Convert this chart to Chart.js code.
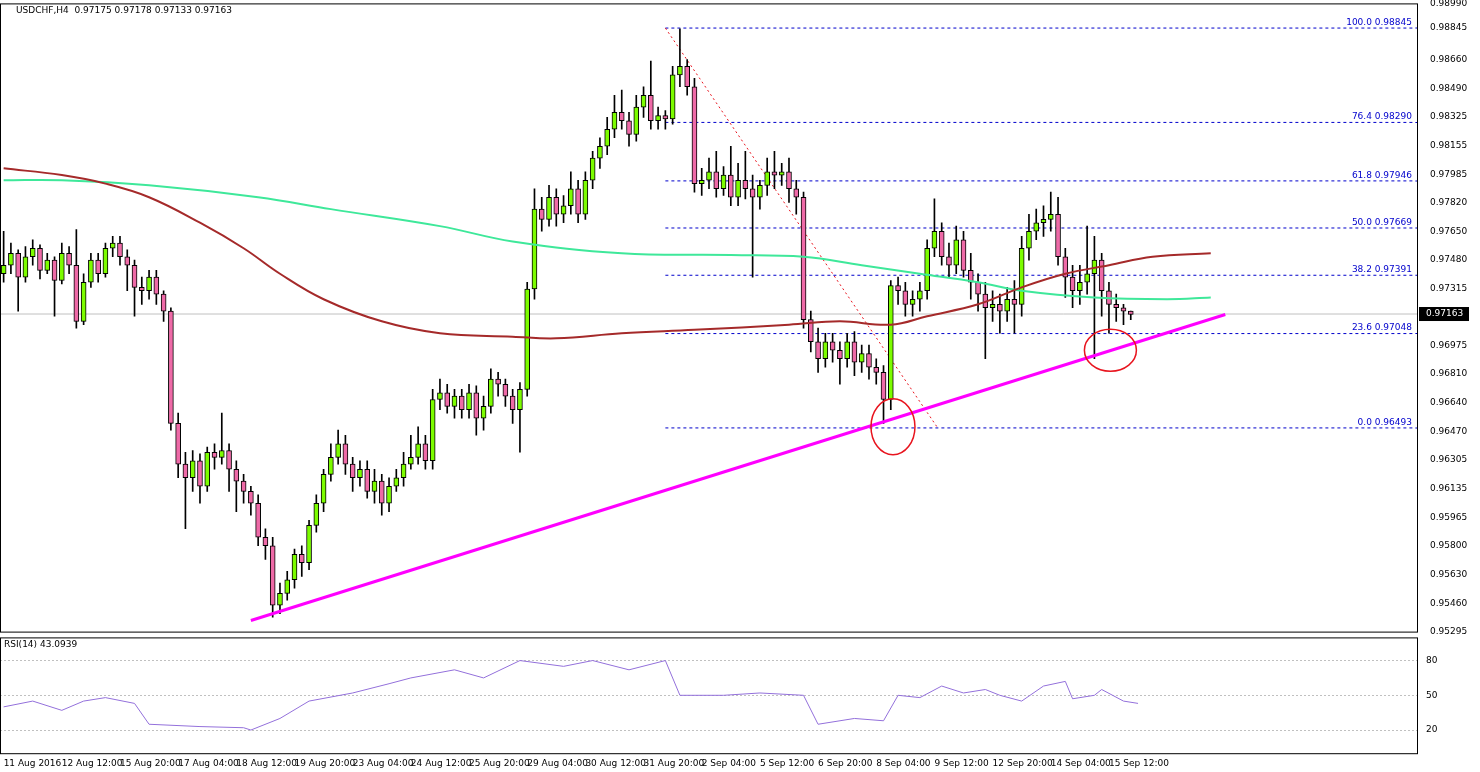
<!DOCTYPE html>
<html>
<head>
<meta charset="utf-8">
<script src="https://cdn.jsdelivr.net/npm/chart.js@4.4.1/dist/chart.umd.min.js"></script>
<style>
  body { margin: 0; background: #fff; overflow: hidden; }
  #main { position: absolute; left: 0; top: -6px; width: 1480px; height: 647px; }
  #rsi { position: absolute; left: 0; top: 624px; width: 1480px; height: 147px; }
</style>
</head>
<body>
<div id="main"><canvas id="mainChart"></canvas></div>
<div id="rsi"><canvas id="rsiChart"></canvas></div>
<script>
// candles (H4 USDCHF)
const opens = [
  .9740,.9745,.9752,.9738,.9750,.9755,.9742,.9748,.9736,.9752,
  .9745,.9712,.9735,.9748,.9740,.9755,.9758,.9750,.9745,.9732,
  .9730,.9738,.9728,.9718,.9652,.9628,.9620,.9630,.9615,.9635,
  .9632,.9636,.9625,.9618,.9612,.9605,.9585,.9580,.9545,.9552,
  .9560,.9575,.9570,.9592,.9605,.9622,.9632,.9640,.9628,.9620,
  .9625,.9612,.9618,.9605,.9615,.9620,.9628,.9632,.9640,.9630,
  .9666,.9670,.9662,.9668,.9660,.9670,.9655,.9662,.9678,.9675,
  .9668,.9660,.9672,.9731,.9778,.9772,.9785,.9775,.9780,.9790,
  .9775,.9795,.9808,.9815,.9825,.9835,.9830,.9822,.9838,.9845,
  .9830,.9833,.9831,.9857,.9862,.9850,.9793,.9795,.9800,.9790,
  .9798,.9785,.9795,.9790,.9785,.9792,.9800,.9798,.9800,.9790,
  .9785,.9713,.9700,.9690,.9700,.9695,.9690,.9700,.9688,.9693,
  .9685,.9682,.9666,.9733,.9730,.9722,.9725,.9730,.9755,.9765,
  .9750,.9745,.9760,.9742,.9735,.9728,.9720,.9722,.9718,.9725,
  .9722,.9755,.9765,.9770,.9772,.9775,.9750,.9738,.9730,.9735,
  .9740,.9748,.9730,.9722,.9720,.9718
];
const closes = [
  .9745,.9752,.9738,.9750,.9755,.9742,.9748,.9736,.9752,.9745,
  .9712,.9735,.9748,.9740,.9755,.9758,.9750,.9745,.9732,.9730,
  .9738,.9728,.9718,.9652,.9628,.9620,.9630,.9615,.9635,.9632,
  .9636,.9625,.9618,.9612,.9605,.9585,.9580,.9545,.9552,.9560,
  .9575,.9570,.9592,.9605,.9622,.9632,.9640,.9628,.9620,.9625,
  .9612,.9618,.9605,.9615,.9620,.9628,.9632,.9640,.9630,.9666,
  .9670,.9662,.9668,.9660,.9670,.9655,.9662,.9678,.9675,.9668,
  .9660,.9672,.9731,.9778,.9772,.9785,.9775,.9780,.9790,.9775,
  .9795,.9808,.9815,.9825,.9835,.9830,.9822,.9838,.9845,.9830,
  .9833,.9831,.9857,.9862,.9850,.9793,.9795,.9800,.9790,.9798,
  .9785,.9795,.9790,.9785,.9792,.9800,.9798,.9800,.9790,.9785,
  .9713,.9700,.9690,.9700,.9695,.9690,.9700,.9688,.9693,.9685,
  .9682,.9666,.9733,.9730,.9722,.9725,.9730,.9755,.9765,.9750,
  .9745,.9760,.9742,.9735,.9728,.9720,.9722,.9718,.9725,.9722,
  .9755,.9765,.9770,.9772,.9775,.9750,.9738,.9730,.9735,.9740,
  .9748,.9730,.9722,.9720,.9718,.9716
];
const highs = [
  .9765,.9758,.9754,.9756,.9760,.9757,.9752,.9750,.9758,.9756,
  .9766,.9740,.9752,.9752,.9758,.9762,.9762,.9754,.9748,.9738,
  .9742,.9742,.9730,.9720,.9658,.9635,.9636,.9634,.9638,.9640,
  .9658,.9640,.9630,.9622,.9615,.9610,.9590,.9585,.9558,.9565,
  .9578,.9580,.9595,.9610,.9625,.9640,.9648,.9645,.9632,.9630,
  .9630,.9625,.9622,.9620,.9625,.9635,.9645,.9650,.9645,.9672,
  .9678,.9675,.9672,.9672,.9675,.9674,.9668,.9684,.9682,.9678,
  .9672,.9676,.9735,.9790,.9785,.9792,.9790,.9786,.9800,.9795,
  .9800,.9812,.9820,.9832,.9845,.9848,.9835,.9845,.9850,.9865,
  .9838,.9836,.9862,.9884,.9866,.9855,.9802,.9808,.9812,.9803,
  .9815,.9805,.9812,.9798,.9795,.9808,.9812,.9805,.9808,.9795,
  .9788,.9718,.9708,.9705,.9705,.9700,.9705,.9706,.9698,.9698,
  .9690,.9686,.9736,.9738,.9735,.9730,.9735,.9760,.9784,.9770,
  .9758,.9768,.9765,.9752,.9740,.9735,.9730,.9728,.9732,.9736,
  .9762,.9775,.9778,.9780,.9788,.9785,.9755,.9745,.9745,.9768,
  .9762,.9752,.9735,.9728,.9722,.9718
];
const lows = [
  .9735,.9740,.9718,.9735,.9745,.9737,.9740,.9715,.9734,.9740,
  .9708,.9710,.9732,.9735,.9738,.9750,.9745,.9730,.9715,.9722,
  .9725,.9722,.9712,.9648,.9620,.9590,.9612,.9605,.9612,.9625,
  .9628,.9612,.9600,.9605,.9598,.9580,.9572,.9538,.9540,.9548,
  .9555,.9562,.9566,.9588,.9600,.9618,.9628,.9622,.9612,.9615,
  .9608,.9605,.9598,.9600,.9612,.9615,.9625,.9628,.9625,.9625,
  .9660,.9658,.9655,.9655,.9655,.9645,.9648,.9658,.9668,.9662,
  .9652,.9635,.9668,.9725,.9765,.9768,.9768,.9770,.9775,.9770,
  .9772,.9790,.9802,.9810,.9820,.9825,.9815,.9818,.9832,.9825,
  .9825,.9825,.9828,.9850,.9845,.9788,.9786,.9790,.9785,.9786,
  .9780,.9780,.9784,.9738,.9778,.9786,.9790,.9792,.9782,.9775,
  .9708,.9694,.9682,.9685,.9688,.9675,.9685,.9680,.9682,.9678,
  .9675,.9652,.9660,.9722,.9715,.9715,.9718,.9725,.9750,.9745,
  .9738,.9740,.9738,.9725,.9718,.9690,.9712,.9705,.9712,.9705,
  .9715,.9748,.9760,.9762,.9765,.9745,.9726,.9720,.9722,.9728,
  .9690,.9715,.9705,.9712,.9710,.9713
];

// moving averages (bar index, price)
const greenMA = [[0,.9795],[8,.9795],[20,.9792],[35,.9785],[45,.9778],[60,.9768],[70,.9759],[85,.9752],[100,.9751],[110,.9750],[118,.9745],[126,.9740],[134,.9735],[140,.9730],[150,.9726],[160,.9725],[166,.9726]];
const brownMA = [[0,.9802],[8,.9798],[14,.9793],[20,.9785],[27,.9770],[33,.9755],[38,.9740],[44,.9725],[52,.9712],[60,.9705],[70,.9703],[76,.9702],[85,.9705],[95,.9707],[108,.9710],[115,.9712],[122,.9710],[127,.9715],[134,.9722],[140,.9732],[146,.9740],[152,.9745],[158,.9750],[166,.9752]];

const fibLevels = [0.98845, 0.98290, 0.97946, 0.97669, 0.97391, 0.97048, 0.96493];
const fibNames = ['100.0', '76.4', '61.8', '50.0', '38.2', '23.6', '0.0'];
const trendLine = [[34, .9536], [168, .9716]];
const fibDiagonal = [[91, .98845], [128.5, .9649]];
const lastPrice = 0.97163;

const priceTicks = [0.98990,0.98845,0.98660,0.98490,0.98325,0.98155,0.97985,0.97820,0.97650,0.97480,0.97315,0.97145,0.96975,0.96810,0.96640,0.96470,0.96305,0.96135,0.95965,0.95800,0.95630,0.95460,0.95295];

const rsiPoints = [[0,40],[4,45],[8,37],[11,45],[14,48],[18,43],[20,25],[27,23],[33,22],[34,20],[38,30],[42,45],[48,52],[53,60],[56,65],[62,72],[66,65],[71,80],[77,75],[81,80],[86,72],[91,80],[93,50],[99,50],[104,52],[110,50],[112,25],[117,30],[121,28],[123,50],[126,48],[129,58],[132,52],[135,55],[137,50],[140,45],[143,58],[146,62],[147,47],[150,50],[151,55],[154,45],[156,43]];
const timeLabels = ['11 Aug 2016','12 Aug 12:00','15 Aug 20:00','17 Aug 04:00','18 Aug 12:00','19 Aug 20:00','23 Aug 04:00','24 Aug 12:00','25 Aug 20:00','29 Aug 04:00','30 Aug 12:00','31 Aug 20:00','2 Sep 04:00','5 Sep 12:00','6 Sep 20:00','8 Sep 04:00','9 Sep 12:00','12 Sep 20:00','14 Sep 04:00','15 Sep 12:00'];
const labelStep = 8;

const FONT = { family: 'Tahoma, "DejaVu Sans", sans-serif', size: 9 };
const BULL = '#7cfc00', BEAR = '#ee6aa7';
const X_MIN = -0.5, X_MAX = 194.5, AXIS_W = 62;

const bodies = opens.map((o, i) => ({ x: i, y: [o, closes[i] === o ? o + 0.00003 : closes[i]] }));
const wicks = highs.map((h, i) => ({ x: i, y: [lows[i], h] }));
const bodyColors = opens.map((o, i) => closes[i] >= o ? BULL : BEAR);
const pts = arr => arr.map(p => ({ x: p[0], y: p[1] }));

const frame = {
  id: 'frame',
  afterDraw(chart) {
    const { ctx, chartArea: a } = chart;
    ctx.save();
    ctx.strokeStyle = '#000';
    ctx.lineWidth = 1;
    ctx.strokeRect(a.left + 0.5, a.top + 0.5, a.right - a.left - 1, a.bottom - a.top);
    ctx.restore();
  }
};

const overlay = {
  id: 'overlay',
  afterDatasetsDraw(chart) {
    const { ctx, chartArea: a, scales: { x, y } } = chart;
    ctx.save();
    ctx.font = '9px Tahoma, "DejaVu Sans", sans-serif';
    ctx.fillStyle = '#000';
    ctx.textBaseline = 'top';
    ctx.fillText('USDCHF,H4  0.97175 0.97178 0.97133 0.97163', 16, a.top + 3);
    // fib labels
    ctx.fillStyle = '#0000cc';
    ctx.textAlign = 'right';
    ctx.textBaseline = 'bottom';
    fibLevels.forEach((lv, i) => ctx.fillText(fibNames[i] + ' ' + lv.toFixed(5), a.right - 6, y.getPixelForValue(lv) - 1));
    // circles around touches
    ctx.strokeStyle = '#e8141e';
    ctx.lineWidth = 1.5;
    ctx.beginPath();
    ctx.ellipse(x.getPixelForValue(122.3), y.getPixelForValue(0.9650), 22, 28, 0, 0, Math.PI * 2);
    ctx.stroke();
    ctx.beginPath();
    ctx.ellipse(x.getPixelForValue(152.2), y.getPixelForValue(0.9695), 26, 21, 0, 0, Math.PI * 2);
    ctx.stroke();
    // last price tag
    const py = y.getPixelForValue(lastPrice);
    ctx.fillStyle = '#000';
    ctx.fillRect(a.right + 1, py - 7, 50, 14);
    ctx.fillStyle = '#fff';
    ctx.textAlign = 'left';
    ctx.textBaseline = 'middle';
    ctx.fillText(lastPrice.toFixed(5), a.right + 8, py);
    ctx.restore();
  }
};

new Chart(document.getElementById('mainChart'), {
  type: 'bar',
  data: {
    datasets: [
      { type: 'line', data: [{ x: X_MIN, y: lastPrice }, { x: X_MAX, y: lastPrice }], borderColor: '#c0c0c0', borderWidth: 1, pointRadius: 0, order: 9 },
      ...fibLevels.map(lv => ({ type: 'line', data: [{ x: 91, y: lv }, { x: X_MAX, y: lv }], borderColor: '#0000cc', borderWidth: 1, borderDash: [3, 3], pointRadius: 0, order: 8 })),
      { type: 'line', data: pts(fibDiagonal), borderColor: '#e8141e', borderWidth: 1, borderDash: [2, 3], pointRadius: 0, order: 7 },
      { data: wicks, backgroundColor: '#000', barThickness: 1, grouped: false, order: 6 },
      { data: bodies, backgroundColor: bodyColors, borderColor: '#000', borderWidth: 1, borderSkipped: false, barThickness: 5, grouped: false, order: 5 },
      { type: 'line', data: pts(greenMA), borderColor: '#3ee89a', borderWidth: 2, pointRadius: 0, tension: 0.4, order: 3 },
      { type: 'line', data: pts(brownMA), borderColor: '#a52a2a', borderWidth: 2, pointRadius: 0, tension: 0.4, order: 2 },
      { type: 'line', data: pts(trendLine), borderColor: '#ff00ff', borderWidth: 3, pointRadius: 0, order: 1 }
    ]
  },
  options: {
    responsive: true, maintainAspectRatio: false, animation: false,
    layout: { padding: 0 },
    plugins: { legend: { display: false }, tooltip: { enabled: false } },
    scales: {
      x: { type: 'linear', min: X_MIN, max: X_MAX, display: false, offset: false },
      y: {
        position: 'right', min: 0.95295, max: 0.98990,
        afterBuildTicks: s => { s.ticks = priceTicks.map(v => ({ value: v })); },
        afterFit: s => { s.width = AXIS_W; },
        grid: { display: false, drawTicks: true },
        border: { display: false },
        ticks: { font: FONT, color: '#000', padding: 4, callback: v => v.toFixed(5) }
      }
    }
  },
  plugins: [frame, overlay]
});

const rsiOverlay = {
  id: 'rsiOverlay',
  afterDatasetsDraw(chart) {
    const { ctx, chartArea: a } = chart;
    ctx.save();
    ctx.font = '9px Tahoma, "DejaVu Sans", sans-serif';
    ctx.fillStyle = '#000';
    ctx.textBaseline = 'top';
    ctx.fillText('RSI(14) 43.0939', 4, a.top + 3);
    ctx.restore();
  }
};

new Chart(document.getElementById('rsiChart'), {
  type: 'line',
  data: {
    datasets: [
      { data: pts(rsiPoints), borderColor: '#9370db', borderWidth: 1, pointRadius: 0 }
    ]
  },
  options: {
    responsive: true, maintainAspectRatio: false, animation: false,
    layout: { padding: 0 },
    plugins: { legend: { display: false }, tooltip: { enabled: false } },
    scales: {
      x: {
        type: 'linear', min: X_MIN, max: X_MAX,
        afterBuildTicks: s => { s.ticks = timeLabels.map((t, i) => ({ value: i * labelStep })); },
        grid: { display: false, drawTicks: true, tickLength: 3 },
        border: { display: false },
        ticks: { font: FONT, color: '#000', maxRotation: 0, autoSkip: false, align: 'start', padding: 2,
          callback: v => timeLabels[Math.round(v / labelStep)] }
      },
      y: {
        position: 'right', min: 0, max: 100,
        afterBuildTicks: s => { s.ticks = [20, 50, 80].map(v => ({ value: v })); },
        afterFit: s => { s.width = AXIS_W; },
        grid: { color: '#c0c0c0', borderDash: [2, 2], drawTicks: false },
        border: { display: false, dash: [2, 2] },
        ticks: { font: FONT, color: '#000', padding: 8 }
      }
    }
  },
  plugins: [frame, rsiOverlay]
});
</script>
</body>
</html>
